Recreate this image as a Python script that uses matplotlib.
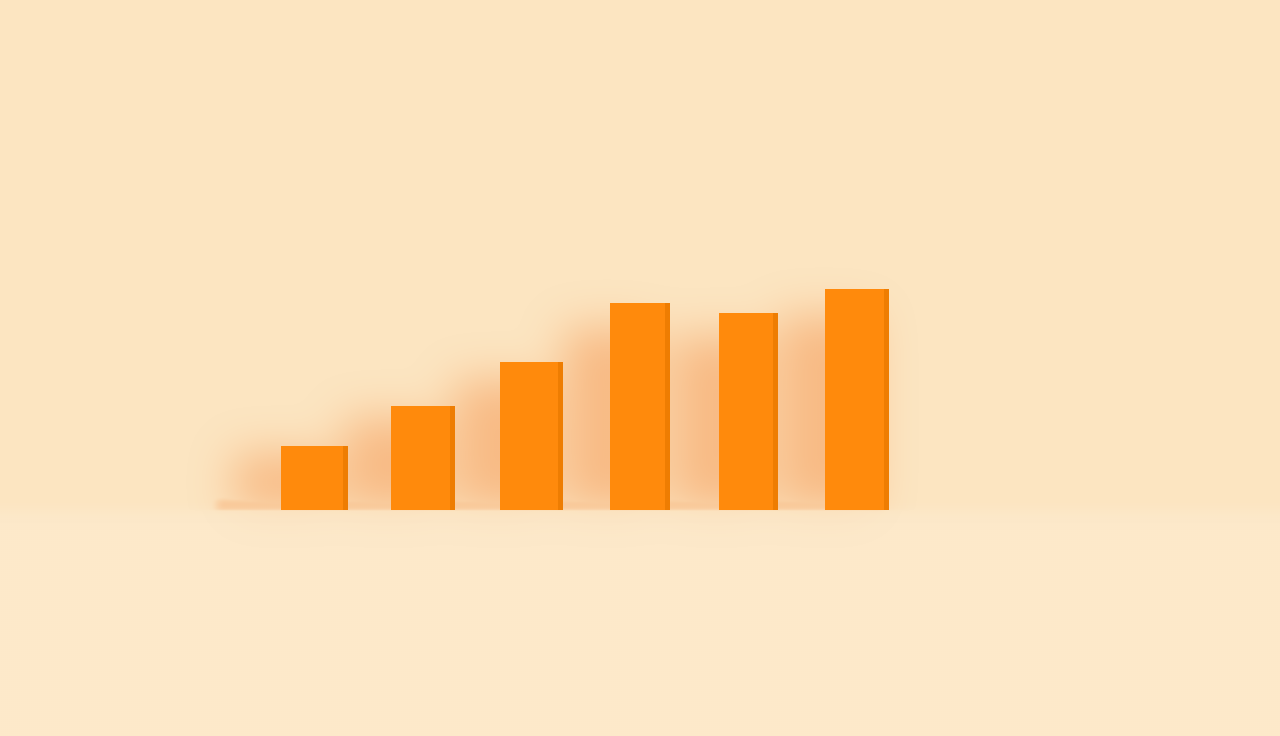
import numpy as np
import matplotlib.pyplot as plt

values = [2.9, 4.7, 6.7, 9.37, 8.91, 10.0]
widths = [0.57, 0.55, 0.53, 0.50, 0.50, 0.54]
positions = np.arange(len(values))

wall = '#fce5c1'
floor = '#fde8c8'
front = '#ff8a0c'
side = '#ee7d02'
shadow_rgb = np.array([246, 158, 92]) / 255.0

XLIM = (-2.891, 8.895)
YLIM = (-10.23, 23.08)


def box_blur(a, r, axis):
    pad = [(0, 0), (0, 0)]
    pad[axis] = (r + 1, r)
    p = np.pad(a, pad, mode='edge')
    c = np.cumsum(p, axis=axis)
    n = a.shape[axis]
    hi = np.take(c, np.arange(2 * r + 1, 2 * r + 1 + n), axis=axis)
    lo = np.take(c, np.arange(0, n), axis=axis)
    return (hi - lo) / (2 * r + 1)


def blur(a, r, passes=3):
    for _ in range(passes):
        a = box_blur(a, r, 0)
        a = box_blur(a, r, 1)
    return a


fig = plt.figure(figsize=(12.8, 7.36), dpi=100, facecolor=wall)
ax = fig.add_axes([0, 0, 1, 1])
ax.set_facecolor(wall)

W, H = 640, 368
xs = np.linspace(XLIM[0], XLIM[1], W)
ys = np.linspace(YLIM[1], YLIM[0], H)
X, Y = np.meshgrid(xs, ys)

# floor, fading softly into the wall
fl = blur((Y < 0) * 1.0, 3, passes=2)
fimg = np.zeros((H, W, 4))
fimg[..., :3] = np.array([253, 233, 202]) / 255.0
fimg[..., 3] = fl
ax.imshow(fimg, extent=(XLIM[0], XLIM[1], YLIM[0], YLIM[1]), aspect='auto',
          interpolation='bilinear', zorder=0)

# soft shadow layer, built from the bar values
mask = np.zeros((H, W))
for p, v, w in zip(positions, values, widths):
    inside = (X > p - w / 2 - 0.45) & (X < p + w / 2 - 0.15) & (Y > 0) & (Y < v * 0.88)
    mask = np.maximum(mask, inside * 1.0)
mask = blur(mask, 10)
band = ((X > -0.9) & (X < 5.25) & (Y > 0) & (Y < 0.45)) * 0.85
band = blur(band, 2, passes=2)
mask = np.maximum(mask, band)
mask[Y < 0] *= 0.2
alpha = np.clip(mask * 0.6, 0, 1)
img = np.zeros((H, W, 4))
img[..., :3] = shadow_rgb
img[..., 3] = alpha
ax.imshow(img, extent=(XLIM[0], XLIM[1], YLIM[0], YLIM[1]), aspect='auto',
          interpolation='bilinear', zorder=1)

# right side face, touching the front face
ax.bar(positions - 0.02 + np.array(widths) / 2 + 0.02, values, width=0.05, bottom=0,
       color=side, linewidth=0, zorder=2)
# front face
ax.bar(positions - 0.02, values, width=widths, bottom=0, color=front, linewidth=0, zorder=3)

ax.set_xlim(*XLIM)
ax.set_ylim(*YLIM)
ax.axis('off')

fig.savefig('out.png', dpi=100, facecolor=wall)
